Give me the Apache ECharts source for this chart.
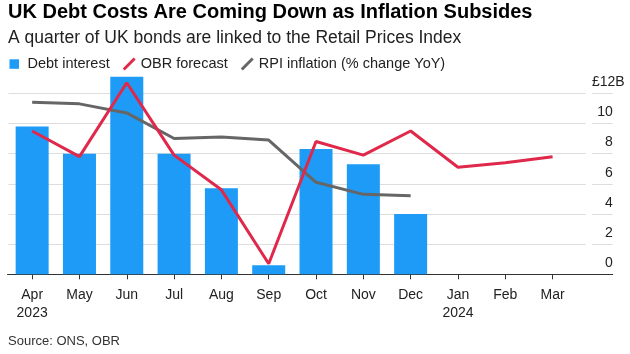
<!DOCTYPE html>
<html><head><meta charset="utf-8">
<script src="https://cdn.jsdelivr.net/npm/echarts@6/dist/echarts.min.js"></script>
<style>html,body{margin:0;padding:0;background:#fff}#c{width:630px;height:354px}</style>
</head><body><div id="c"></div>
<script>
const titleText = 'UK Debt Costs Are Coming Down as Inflation Subsides';
const subtitleText = 'A quarter of UK bonds are linked to the Retail Prices Index';
const sourceText = 'Source: ONS, OBR';
const months = ['Apr','May','Jun','Jul','Aug','Sep','Oct','Nov','Dec','Jan','Feb','Mar'];
const years = ['2023','','','','','','','','','2024','',''];
const debtInterest = [9.8, 8.0, 13.1, 8.0, 5.7, 0.6, 8.3, 7.3, 4.0, null, null, null];
const obrForecast = [9.5, 7.8, 12.7, 7.9, 5.6, 0.7, 8.8, 7.9, 9.5, 7.1, 7.4, 7.8];
const rpiInflation = [11.4, 11.3, 10.7, 9.0, 9.1, 8.9, 6.1, 5.3, 5.2, null, null, null];
const yMin = 0, yMax = 12, yStep = 2;

const FONT = "'Liberation Sans', Arial, sans-serif";
const xs = months.map((m, i) => i + 0.5);
const pts = arr => arr.map((v, i) => [i + 0.5, v]).filter(p => p[1] != null);
const slashIcon = 'path://M0.5,10.5 L11,0 L13,2 L2.5,12.5 Z';
const squareIcon = 'path://M13,0 M0,13 M0,1.8 L9.5,1.8 L9.5,11.3 L0,11.3 Z';

const chart = echarts.init(document.getElementById('c'), null, {renderer: 'canvas'});
chart.setOption({
  animation: false,
  textStyle: {fontFamily: FONT},
  title: [
    {text: titleText, left: 8, top: 2, padding: 0,
     textStyle: {fontFamily: FONT, fontSize: 20, fontWeight: 'bold', color: '#000'}},
    {text: subtitleText, left: 8, top: 29, padding: 0,
     textStyle: {fontFamily: FONT, fontSize: 17.5, fontWeight: 'normal', color: '#222'}},
    {text: sourceText, left: 8, top: 335, padding: 0,
     textStyle: {fontFamily: FONT, fontSize: 13, fontWeight: 'normal', color: '#333'}}
  ],
  legend: {
    left: 9.5, top: 56.5, padding: 0, itemWidth: 13, itemHeight: 13, itemGap: 13,
    textStyle: {fontFamily: FONT, fontSize: 14.5, color: '#222'},
    data: [
      {name: 'Debt interest', icon: squareIcon},
      {name: 'OBR forecast', icon: slashIcon},
      {name: 'RPI inflation (% change YoY)', icon: slashIcon}
    ]
  },
  grid: [
    {left: 8.5, right: 44.3, top: 93.3, bottom: 79.7},
    {left: 7.5, right: 17.3, top: 93.3, bottom: 79.7},
    {left: 592.3, right: 17.3, top: 93.3, bottom: 79.7}
  ],
  xAxis: [
    {gridIndex: 0, type: 'value', min: 0, max: 12.2,
     axisLine: {show: false},
     axisTick: {show: true, customValues: xs, length: 5, lineStyle: {color: '#333'}},
     axisLabel: {customValues: xs, fontFamily: FONT, fontSize: 14, color: '#222', lineHeight: 18, margin: 12,
       formatter: v => { const i = Math.round(v - 0.5); return years[i] ? months[i] + '\n' + years[i] : months[i]; }},
     splitLine: {show: false}},
    {gridIndex: 1, type: 'value', min: 0, max: 1,
     axisLine: {show: true, onZero: false, lineStyle: {color: '#333', width: 1}},
     axisTick: {show: false}, axisLabel: {show: false}, splitLine: {show: false}},
    {gridIndex: 2, type: 'value', min: 0, max: 1, show: false}
  ],
  yAxis: [
    {gridIndex: 0, type: 'value', min: yMin, max: yMax, interval: yStep,
     axisLine: {show: false}, axisTick: {show: false}, axisLabel: {show: false},
     splitLine: {show: true, lineStyle: {color: '#dddddd', width: 1}}},
    {gridIndex: 1, type: 'value', min: yMin, max: yMax, show: false},
    {gridIndex: 2, type: 'value', min: yMin, max: yMax, interval: yStep, position: 'right',
     axisLine: {show: false}, axisTick: {show: false},
     splitLine: {show: true, lineStyle: {color: '#dddddd', width: 1}},
     axisLabel: {inside: true, margin: -12, align: 'right', verticalAlign: 'bottom', padding: [0, 0, 4, 0],
       fontFamily: FONT, fontSize: 14, color: '#222',
       formatter: v => v === yMax ? '£' + v + 'B' : v + '{s| }',
       rich: {s: {width: 12, fontFamily: FONT, fontSize: 14}}}}
  ],
  series: [
    {name: 'Debt interest', type: 'bar', xAxisIndex: 0, yAxisIndex: 0, data: pts(debtInterest),
     barWidth: 33, clip: false, color: '#1d9bf6', itemStyle: {color: '#1d9bf6'}, z: 2},
    {name: 'RPI inflation (% change YoY)', type: 'line', xAxisIndex: 0, yAxisIndex: 0, data: pts(rpiInflation),
     symbol: 'none', clip: false, color: '#666666', lineStyle: {color: '#666666', width: 3}, z: 3},
    {name: 'OBR forecast', type: 'line', xAxisIndex: 0, yAxisIndex: 0, data: pts(obrForecast),
     symbol: 'none', clip: false, color: '#e0284b', lineStyle: {color: '#e0284b', width: 3}, z: 4}
  ]
});
</script>
</body></html>
